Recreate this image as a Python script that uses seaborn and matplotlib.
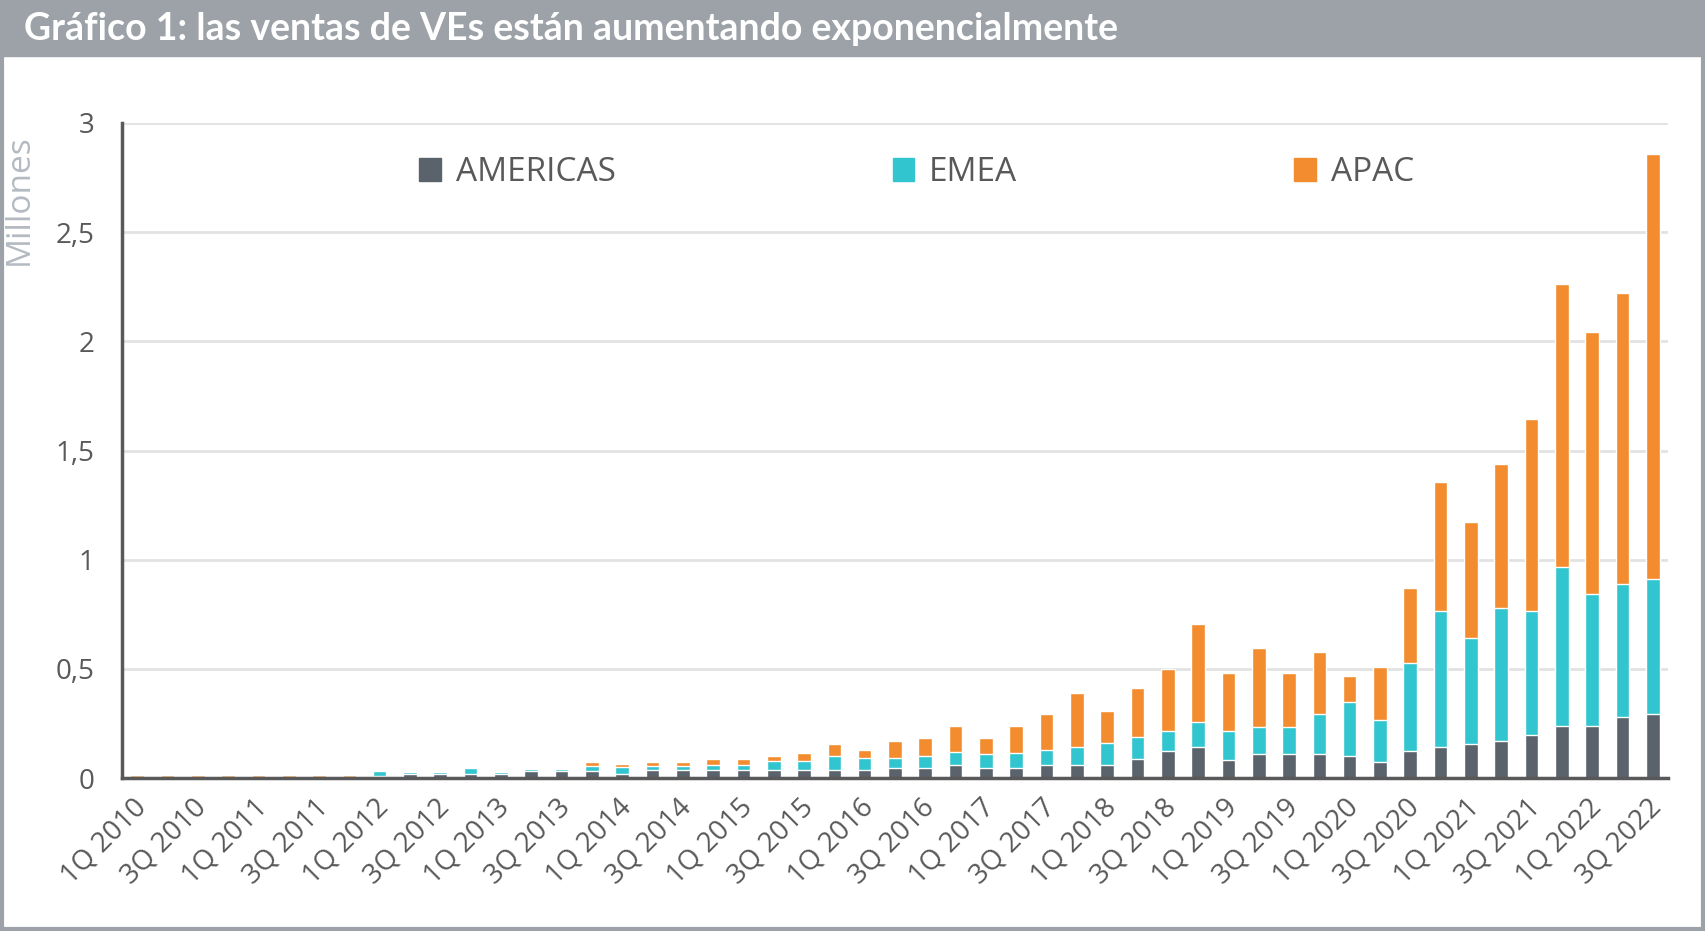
import numpy as np
import pandas as pd
import seaborn as sns
import matplotlib.pyplot as plt
import matplotlib.transforms as mtransforms
from matplotlib.patches import Rectangle, Patch

# trimestres 1Q 2010 .. 3Q 2022
quarters = [f"{q}Q {y}" for y in range(2010, 2023) for q in range(1, 5)][:51]

# ventas por región (millones)
americas = [0.005, 0.005, 0.005, 0.005, 0.005, 0.005, 0.005, 0.005,
            0.008, 0.02, 0.02, 0.02, 0.02, 0.032, 0.032, 0.03,
            0.02, 0.035, 0.035, 0.035, 0.035, 0.035, 0.035, 0.035,
            0.035, 0.048, 0.048, 0.06, 0.048, 0.048, 0.06, 0.06,
            0.06, 0.086, 0.126, 0.141, 0.084, 0.111, 0.111, 0.111,
            0.10, 0.074, 0.126, 0.141, 0.158, 0.168, 0.195, 0.237,
            0.237, 0.279, 0.294]
emea = [0.002, 0.002, 0.002, 0.002, 0.002, 0.002, 0.002, 0.002,
        0.022, 0.008, 0.008, 0.025, 0.008, 0.008, 0.008, 0.025,
        0.03, 0.02, 0.02, 0.025, 0.025, 0.041, 0.041, 0.065,
        0.055, 0.042, 0.052, 0.06, 0.062, 0.066, 0.069, 0.084,
        0.099, 0.10, 0.088, 0.117, 0.13, 0.124, 0.124, 0.183,
        0.247, 0.193, 0.399, 0.622, 0.483, 0.609, 0.568, 0.729,
        0.608, 0.61, 0.616]
apac = [0.008, 0.008, 0.008, 0.008, 0.008, 0.008, 0.008, 0.008,
        0.002, 0.006, 0.006, 0.003, 0.006, 0.008, 0.008, 0.019,
        0.012, 0.019, 0.019, 0.028, 0.028, 0.024, 0.038, 0.056,
        0.039, 0.081, 0.083, 0.118, 0.073, 0.124, 0.163, 0.245,
        0.148, 0.228, 0.286, 0.446, 0.269, 0.36, 0.248, 0.284,
        0.121, 0.243, 0.347, 0.592, 0.531, 0.66, 0.88, 1.297,
        1.197, 1.332, 1.947]

colors = {"AMERICAS": "#5a626b", "EMEA": "#31c5cf", "APAC": "#f28c2e"}
txt_color = "#595959"

df = pd.DataFrame({"trimestre": quarters, "AMERICAS": americas,
                   "EMEA": emea, "APAC": apac})
df["top_emea"] = df["AMERICAS"] + df["EMEA"]
df["top_apac"] = df["top_emea"] + df["APAC"]

sns.set_style("white")
plt.rcParams["font.family"] = ["Open Sans", "DejaVu Sans"]

fig = plt.figure(figsize=(17.06, 9.31), dpi=100)
ax = fig.add_axes([0.0715, 0.1643, 0.9062, 0.7036])

# barras apiladas: se dibuja de la cima hacia abajo
sns.barplot(data=df, x="trimestre", y="top_apac", color=colors["APAC"],
            width=0.45, saturation=1, ax=ax)
sns.barplot(data=df, x="trimestre", y="top_emea", color=colors["EMEA"],
            width=0.45, saturation=1, ax=ax)
sns.barplot(data=df, x="trimestre", y="AMERICAS", color=colors["AMERICAS"],
            width=0.45, saturation=1, ax=ax)

ax.set_ylim(0, 3)
ax.set_xlim(-0.5, len(quarters) - 0.5)
ax.set_yticks([0, 0.5, 1, 1.5, 2, 2.5, 3])
ax.set_yticklabels(["0", "0,5", "1", "1,5", "2", "2,5", "3"])
ax.yaxis.grid(True, color="#e2e2e2", linewidth=2)
ax.set_axisbelow(True)

ax.set_xticks(range(len(quarters)))
ax.set_xticklabels([q if i % 2 == 0 else "" for i, q in enumerate(quarters)],
                   rotation=45, ha="right", rotation_mode="anchor")
ax.set_xticks(np.arange(-0.5, len(quarters), 1), minor=True)
ax.tick_params(axis="x", which="major", length=0, pad=11,
               labelsize=20, labelcolor=txt_color)
ax.tick_params(axis="x", which="minor", length=7, width=2.5,
               color=txt_color, direction="out")
ax.tick_params(axis="y", length=7, width=2.5, color=txt_color,
               labelsize=20, labelcolor=txt_color, pad=13)

# desplazar un poco las etiquetas del eje x hacia la izquierda
shift = mtransforms.ScaledTranslation(-5 / 100, 0, fig.dpi_scale_trans)
for lbl in ax.get_xticklabels():
    lbl.set_transform(lbl.get_transform() + shift)

for side in ["top", "right"]:
    ax.spines[side].set_visible(False)
for side in ["left", "bottom"]:
    ax.spines[side].set_color(txt_color)
    ax.spines[side].set_linewidth(2.5)

ax.set_xlabel("")
ax.set_ylabel("")
fig.text(19 / 1706, 1 - 134 / 931, "Millones", rotation=90, fontsize=24,
         color="#b3bac2", ha="center", va="top")

handles = [Patch(color=colors[k]) for k in ["AMERICAS", "EMEA", "APAC"]]
ax.legend(handles, ["AMERICAS", "EMEA", "APAC"], ncol=3, frameon=False,
          loc="upper center", bbox_to_anchor=(0.514, 0.995), fontsize=24,
          labelcolor=txt_color, handlelength=0.65, handleheight=0.65,
          handletextpad=0.45, columnspacing=8.3)

# banda del título y marco
fig.patches.append(Rectangle((0, 1 - 56 / 931), 1, 56 / 931,
                             transform=fig.transFigure, color="#9ca2a7",
                             zorder=0))
fig.patches.append(Rectangle((0.001, 0.002), 0.997, 0.996,
                             transform=fig.transFigure, fill=False,
                             edgecolor="#9ca2a7", linewidth=3, zorder=1))
fig.text(24 / 1706, 1 - 29 / 931,
         "Gráfico 1: las ventas de VEs están aumentando exponencialmente",
         color="white", fontsize=27, fontweight="bold", family="Lato",
         va="center", ha="left")

fig.savefig("out.png", dpi=100)
